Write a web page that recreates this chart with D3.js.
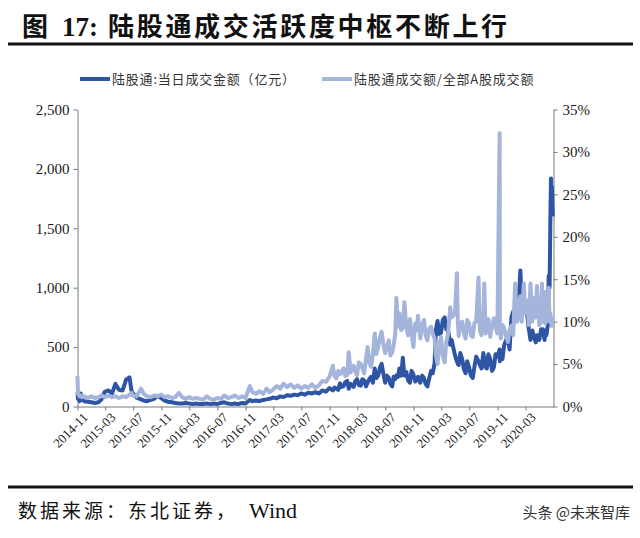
<!DOCTYPE html>
<html>
<head>
<meta charset="utf-8">
<script src="https://cdn.jsdelivr.net/npm/d3@7"></script>
<style>
body { margin: 0; background: #fff; }
</style>
</head>
<body>
<svg id="chart" width="640" height="538"></svg>
<script>
// trading dates, both series read at the same points
var dates = [
'2014-11-17','2014-11-19','2014-11-26','2014-12-01','2014-12-05','2014-12-16',
'2015-01-01','2015-01-16','2015-02-01','2015-02-16','2015-03-01','2015-03-16','2015-04-01','2015-04-16','2015-05-01','2015-05-16','2015-06-01','2015-06-16','2015-07-01','2015-07-10','2015-07-16','2015-08-01','2015-08-20','2015-09-01','2015-09-16','2015-10-01','2015-10-16','2015-11-01','2015-11-16','2015-12-01','2015-12-16',
'2016-01-01','2016-01-16','2016-02-01','2016-02-16','2016-03-01','2016-03-16','2016-04-01','2016-04-16','2016-05-01','2016-05-16','2016-06-01','2016-06-16','2016-07-01','2016-07-16','2016-08-01','2016-08-16','2016-09-01','2016-09-16','2016-10-01','2016-10-16','2016-11-01','2016-11-16','2016-12-05','2016-12-16',
'2017-01-01','2017-01-16','2017-02-01','2017-02-16','2017-03-01','2017-03-16','2017-04-01','2017-04-16','2017-05-01','2017-05-16','2017-06-01','2017-06-16','2017-07-01','2017-07-16','2017-08-01','2017-08-16','2017-09-01','2017-09-16','2017-10-01','2017-10-16','2017-11-01','2017-11-16','2017-12-01','2017-12-08','2017-12-16','2017-12-24',
'2018-01-01','2018-01-08','2018-01-16','2018-01-24','2018-02-01','2018-02-08','2018-02-16','2018-03-01','2018-03-08','2018-03-16','2018-03-24','2018-04-01','2018-04-08','2018-04-16','2018-04-24','2018-05-01','2018-05-08','2018-05-16','2018-05-24','2018-06-01','2018-06-08','2018-06-16','2018-06-24',
'2018-07-01','2018-07-08','2018-07-16','2018-07-24','2018-08-01','2018-08-08','2018-08-16','2018-08-22','2018-08-29','2018-09-03','2018-09-10','2018-09-16','2018-09-24','2018-10-01','2018-10-08','2018-10-16','2018-10-24','2018-11-01','2018-11-08','2018-11-16','2018-11-24','2018-12-01','2018-12-06','2018-12-16','2018-12-24',
'2019-01-01','2019-01-08','2019-01-16','2019-01-24','2019-02-01','2019-02-08','2019-02-16','2019-02-22','2019-03-01','2019-03-08','2019-03-16','2019-03-24','2019-04-01','2019-04-08','2019-04-16','2019-04-25','2019-05-01','2019-05-16','2019-05-24','2019-05-28','2019-06-01','2019-06-08','2019-06-16','2019-06-24',
'2019-07-01','2019-07-08','2019-07-16','2019-07-24','2019-08-01','2019-08-08','2019-08-16','2019-08-26','2019-09-01','2019-09-08','2019-09-16','2019-09-20','2019-09-26','2019-10-01','2019-10-08','2019-10-16','2019-10-24','2019-11-01','2019-11-08','2019-11-16','2019-11-26','2019-11-27','2019-12-01','2019-12-08','2019-12-16','2019-12-24',
'2020-01-01','2020-01-08','2020-01-16','2020-01-24','2020-02-01','2020-02-10','2020-02-16','2020-02-24','2020-03-01','2020-03-10','2020-03-16','2020-03-24','2020-04-01','2020-04-08','2020-04-16','2020-04-24','2020-05-01','2020-05-06','2020-05-16','2020-05-24','2020-05-28','2020-06-01','2020-06-08','2020-06-12','2020-06-16','2020-06-22','2020-06-26','2020-06-30','2020-07-03','2020-07-06','2020-07-08','2020-07-10','2020-07-14'];

// 陆股通:当日成交金额（亿元）
var amount = [
120,70,45,110,60,45,
40,35,30,35,60,125,135,110,190,140,135,225,245,130,110,75,60,50,45,55,65,90,70,50,40,
35,30,25,25,30,25,20,25,20,20,25,20,25,20,30,35,25,20,25,20,30,25,55,45,
50,45,55,60,65,75,70,85,80,95,90,100,95,110,100,115,110,120,110,135,125,155,135,160,150,140,
195,165,170,205,215,150,190,165,210,230,180,175,230,220,170,200,230,250,200,320,240,260,330,
360,280,200,260,240,190,170,250,230,260,250,320,260,410,260,290,220,200,300,270,210,230,250,200,260,
240,190,170,240,300,280,360,650,720,610,620,730,750,650,640,520,560,430,380,360,350,450,400,310,
280,380,330,260,240,330,420,380,350,320,450,400,330,320,440,400,300,330,440,420,480,380,470,400,520,560,
560,480,750,800,820,720,850,1145,880,800,860,780,650,560,640,580,540,600,560,650,620,650,560,640,600,680,1100,1000,1500,1920,1750,1850,1600];

// 陆股通成交额/全部A股成交额 (%)
var ratio = [
3.6,1.5,1.2,1.3,1.1,1.2,
1.0,1.2,1.0,1.1,1.3,1.1,1.3,1.1,1.2,1.0,1.2,1.1,1.4,1.6,1.3,1.2,2.1,1.5,1.2,1.1,1.3,1.2,1.4,1.1,1.2,
1.0,1.1,1.6,1.1,0.9,1.1,0.9,1.0,0.9,0.8,1.2,0.9,0.8,1.0,0.9,1.3,1.0,1.1,1.3,1.0,1.2,1.0,2.4,1.7,
1.5,1.8,1.5,2.1,1.7,2.0,2.4,2.1,2.7,2.3,2.6,2.2,2.5,2.1,2.4,2.2,2.6,2.2,2.5,3.0,2.9,3.5,4.8,3.6,3.3,4.2,
3.8,4.0,4.5,3.6,3.7,6.4,4.0,4.8,4.2,3.7,5.2,5.0,4.5,3.9,5.6,7.0,5.2,4.7,6.2,8.6,6.2,7.0,8.2,
8.8,7.4,6.3,7.0,7.8,6.0,6.4,7.2,8.5,12.8,9.4,11.0,9.0,9.3,12.3,9.4,8.4,10.3,8.6,7.0,9.8,9.0,10.7,8.0,9.6,
10.2,8.4,7.8,9.2,9.4,8.6,8.0,6.0,5.0,7.0,8.2,6.0,5.2,7.6,8.6,11.7,10.5,11.0,15.7,10.0,8.3,9.8,10.0,8.6,
8.0,10.2,9.8,8.4,8.2,9.8,10.0,15.2,9.0,8.4,10.2,14.5,8.6,9.5,10.3,8.2,9.6,10.4,9.4,8.6,32.2,9.5,8.0,9.6,9.2,8.2,
7.6,9.0,9.5,8.4,14.5,10.0,12.0,13.0,10.0,14.5,11.0,12.5,9.6,14.5,10.0,12.8,10.5,14.2,9.6,10.0,14.5,10.0,13.5,9.8,11.0,12.0,14.0,10.0,11.0,10.0,10.5,9.5,10.5];

var leftTicks = [0,500,1000,1500,2000,2500];
var rightTicks = [0,5,10,15,20,25,30,35];
var xTickLabels = ['2014-11','2015-03','2015-07','2015-11','2016-03','2016-07','2016-11','2017-03',
'2017-07','2017-11','2018-03','2018-07','2018-11','2019-03','2019-07','2019-11','2020-03'];

var seriesNames = ['陆股通:当日成交金额（亿元）','陆股通成交额/全部A股成交额'];
var darkBlue = '#2e55a3';
var lightBlue = '#a4b4db';

var plot = {left:77.5, right:553.5, top:109.5, bottom:406.5};
var parseDate = d3.timeParse('%Y-%m-%d');
var serif = '"Liberation Serif","Times New Roman",serif';
var cjk = '"Noto Sans CJK SC","Noto Sans",sans-serif';

var svg = d3.select('#chart');

var xScale = d3.scaleTime()
    .domain([parseDate('2014-11-17'), parseDate('2020-07-17')])
    .range([plot.left, plot.right]);
var yLeft = d3.scaleLinear().domain([0,2500]).range([plot.bottom, plot.top]);
var yRight = d3.scaleLinear().domain([0,35]).range([plot.bottom, plot.top]);

var rows = dates.map((d,i) => ({date: parseDate(d), amount: amount[i], ratio: ratio[i]}));

// title + rules
var title = svg.append('g').attr('class','title');
title.append('text').attr('x',22).attr('y',36)
    .style('font','bold 26px ' + cjk).attr('fill','#111').text('图');
title.append('text').attr('x',62).attr('y',36)
    .style('font','bold 27px ' + serif).attr('fill','#111').text('17:');
title.append('text').attr('x',108).attr('y',36)
    .style('font','bold 26px ' + cjk).style('letter-spacing','2.7px').attr('fill','#111')
    .text('陆股通成交活跃度中枢不断上行');

svg.append('line').attr('x1',8).attr('x2',633).attr('y1',44).attr('y2',44)
    .attr('stroke','#111').attr('stroke-width',3);
svg.append('line').attr('x1',8).attr('x2',633).attr('y1',487).attr('y2',487)
    .attr('stroke','#111').attr('stroke-width',3);

// legend
var legend = svg.append('g').attr('class','legend');
var legendX = [80,322];
legend.selectAll('.legline')
    .data(seriesNames)
    .join('line')
    .attr('class','legline')
    .attr('x1',(d,i) => legendX[i])
    .attr('x2',(d,i) => legendX[i] + 30)
    .attr('y1',79).attr('y2',79)
    .attr('stroke',(d,i) => i == 0 ? darkBlue : lightBlue)
    .attr('stroke-width',4);
legend.selectAll('.legtext')
    .data(seriesNames)
    .join('text')
    .attr('class','legtext')
    .attr('x',(d,i) => legendX[i] + 32)
    .attr('y',84)
    .style('font','13px ' + cjk)
    .style('letter-spacing','0.8px')
    .attr('fill','#333')
    .text(d => d);

// axes
var leftAxis = d3.axisLeft(yLeft).tickValues(leftTicks)
    .tickFormat(d3.format(',')).tickSize(4).tickSizeOuter(0).tickPadding(4);
var rightAxis = d3.axisRight(yRight).tickValues(rightTicks)
    .tickFormat(d => d + '%').tickSize(4).tickSizeOuter(0).tickPadding(5);
var xTicks = xTickLabels.map(s => parseDate(s + '-17'));
var bottomAxis = d3.axisBottom(xScale).tickValues(xTicks)
    .tickFormat(d3.timeFormat('%Y-%m')).tickSize(4).tickSizeOuter(0);

var gLeft = svg.append('g').attr('transform','translate(' + plot.left + ',0)').call(leftAxis);
var gRight = svg.append('g').attr('transform','translate(' + plot.right + ',0)').call(rightAxis);
var gBottom = svg.append('g').attr('transform','translate(0,' + plot.bottom + ')').call(bottomAxis);

[gLeft, gRight, gBottom].forEach(g => {
    g.select('.domain').attr('stroke','#7a7a7a');
    g.selectAll('.tick line').attr('stroke','#7a7a7a');
    g.selectAll('.tick text').style('font','15px ' + serif).attr('fill','#1a1a1a');
});

gBottom.selectAll('.tick text')
    .style('font','13px ' + serif)
    .attr('text-anchor','end')
    .attr('dy','0.3em')
    .attr('transform','translate(3,4) rotate(-45)');

// series: amount on left axis, ratio on right axis (drawn on top)
var amountLine = d3.line().x(d => xScale(d.date)).y(d => yLeft(d.amount));
var ratioLine = d3.line().x(d => xScale(d.date)).y(d => yRight(d.ratio));

svg.append('path')
    .datum(rows)
    .attr('d',amountLine)
    .attr('fill','none')
    .attr('stroke',darkBlue)
    .attr('stroke-width',4)
    .attr('stroke-linejoin','round');

svg.append('path')
    .datum(rows)
    .attr('d',ratioLine)
    .attr('fill','none')
    .attr('stroke',lightBlue)
    .attr('stroke-width',4)
    .attr('stroke-linejoin','round');

// footer
svg.append('text').attr('x',18).attr('y',518)
    .style('font','19px ' + cjk).style('letter-spacing','3px').attr('fill','#111')
    .text('数据来源：东北证券，');
svg.append('text').attr('x',249).attr('y',518)
    .style('font','22px ' + serif).attr('fill','#111')
    .text('Wind');
svg.append('text').attr('x',630).attr('y',518)
    .attr('text-anchor','end')
    .style('font','15px ' + cjk).attr('fill','#333')
    .text('头条 @未来智库');
</script>
</body>
</html>
